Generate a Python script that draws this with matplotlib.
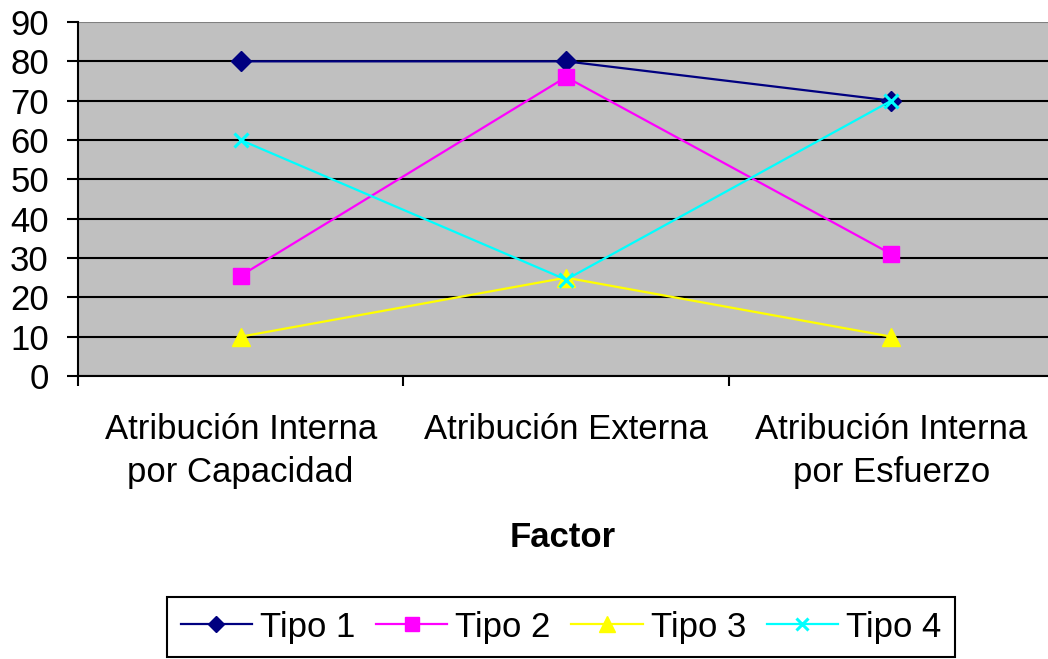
import matplotlib.pyplot as plt
import numpy as np

plt.rcParams['font.family'] = ['Liberation Sans', 'DejaVu Sans']

categories = ['Atribución Interna\npor Capacidad', 'Atribución Externa', 'Atribución Interna\npor Esfuerzo']
tipo1 = [80, 80, 70]
tipo2 = [25.5, 76, 31]
tipo3 = [10, 25, 10]
tipo4 = [60, 24.5, 70]
series_names = ['Tipo 1', 'Tipo 2', 'Tipo 3', 'Tipo 4']

fig = plt.figure(figsize=(10.48, 6.59), dpi=100)
ax = fig.add_axes([78 / 1048, 1 - 376 / 659, (1054 - 78) / 1048, (376 - 22) / 659])
ax.set_facecolor('#C0C0C0')

x = np.arange(len(categories))
ax.plot(x, tipo1, color='#000080', lw=1.6, marker='D', ms=10, label=series_names[0])
ax.plot(x, tipo2, color='#FF00FF', lw=1.6, marker='s', ms=11.5, label=series_names[1])
ax.plot(x, tipo3, color='#FFFF00', lw=1.6, marker='^', ms=13.5, label=series_names[2])
ax.plot(x, tipo4, color='#00FFFF', lw=1.6, marker='x', ms=10, mew=2.2, label=series_names[3])

ax.set_xlim(-0.5, 2.5)
ax.set_ylim(0, 90)
ax.set_yticks(np.arange(0, 91, 10))
ax.yaxis.grid(True, color='black', lw=1.5)
ax.yaxis.get_gridlines()[-1].set_color('#808080')
ax.set_axisbelow(True)
for s in ['top', 'right']:
  ax.spines[s].set_visible(False)
ax.spines['left'].set_linewidth(1.5)
ax.spines['bottom'].set_linewidth(1.5)

ax.set_xticks([-0.5, 0.5, 1.5])
ax.set_xticklabels([])
ax.set_xticks(x, minor=True)
ax.set_xticklabels(categories, minor=True, fontsize=25, linespacing=1.4)
ax.tick_params(axis='x', which='minor', length=0, pad=26.5)
ax.tick_params(axis='x', which='major', length=7, width=1.5, direction='out')
ax.tick_params(axis='y', length=8, width=1.5, labelsize=25, pad=13)
ax.set_xlabel('Factor', fontsize=25, fontweight='bold')
ax.xaxis.set_label_coords(0.497, -0.41)

leg = ax.legend(loc='center', bbox_to_anchor=(561 / 1048, 1 - 627 / 659), bbox_transform=fig.transFigure,
                ncol=4, fontsize=25, frameon=True, fancybox=False, framealpha=1,
                edgecolor='black', handlelength=2.05, columnspacing=0.6, handletextpad=0.23,
                borderpad=0.4, markerscale=0.85)
leg.get_frame().set_linewidth(1.5)

plt.savefig('out.png', dpi=100)
